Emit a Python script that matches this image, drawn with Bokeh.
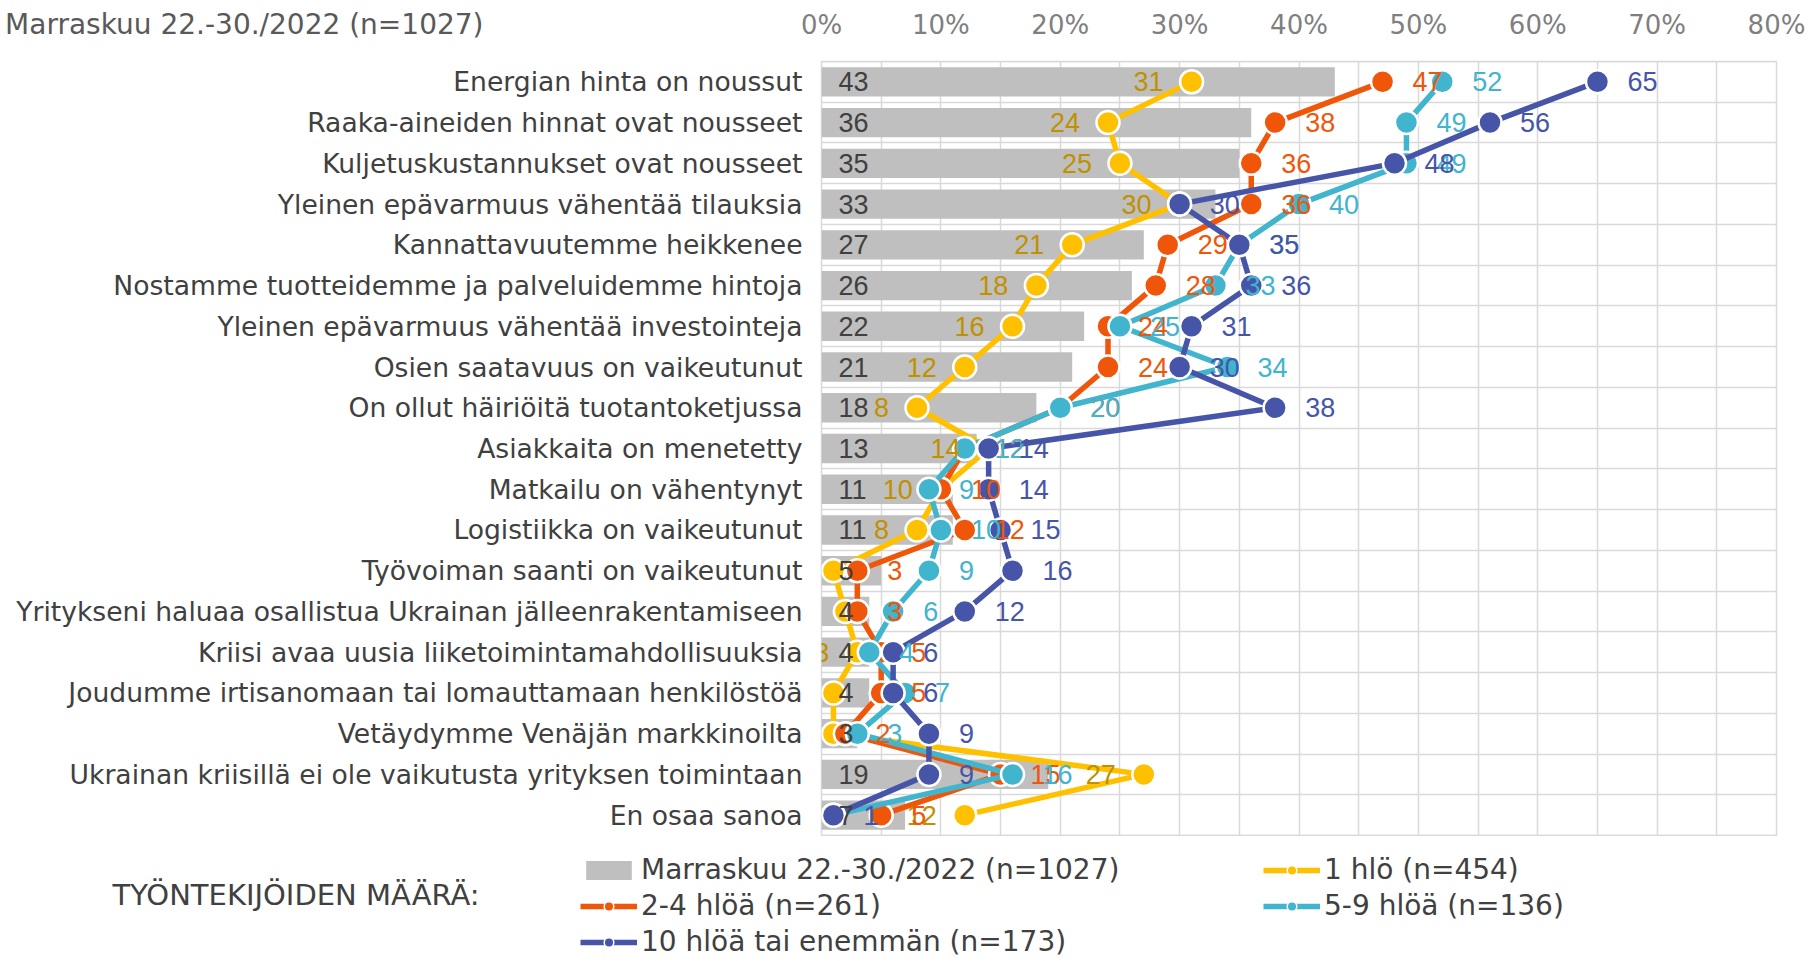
from bokeh.plotting import figure
from bokeh.layouts import column
from bokeh.models import (FactorRange, FixedTicker, Legend, LegendItem, Label, Range1d, Grid)
from bokeh.core.properties import value
from bokeh.embed import file_html
from bokeh.resources import INLINE

categories = [
    "Energian hinta on noussut",
    "Raaka-aineiden hinnat ovat nousseet",
    "Kuljetuskustannukset ovat nousseet",
    "Yleinen epävarmuus vähentää tilauksia",
    "Kannattavuutemme heikkenee",
    "Nostamme tuotteidemme ja palveluidemme hintoja",
    "Yleinen epävarmuus vähentää investointeja",
    "Osien saatavuus on vaikeutunut",
    "On ollut häiriöitä tuotantoketjussa",
    "Asiakkaita on menetetty",
    "Matkailu on vähentynyt",
    "Logistiikka on vaikeutunut",
    "Työvoiman saanti on vaikeutunut",
    "Yritykseni haluaa osallistua Ukrainan jälleenrakentamiseen",
    "Kriisi avaa uusia liiketoimintamahdollisuuksia",
    "Joudumme irtisanomaan tai lomauttamaan henkilöstöä",
    "Vetäydymme Venäjän markkinoilta",
    "Ukrainan kriisillä ei ole vaikutusta yrityksen toimintaan",
    "En osaa sanoa",
]
total_all = [43, 36, 35, 33, 27, 26, 22, 21, 18, 13, 11, 11, 5, 4, 4, 4, 3, 19, 7]
hlo_1 = [31, 24, 25, 30, 21, 18, 16, 12, 8, 14, 10, 8, 1, 2, 3, 1, 1, 27, 12]
hlo_2_4 = [47, 38, 36, 36, 29, 28, 24, 24, 20, 12, 10, 12, 3, 3, 5, 5, 2, 15, 5]
hlo_5_9 = [52, 49, 49, 40, 35, 33, 25, 34, 20, 12, 9, 10, 9, 6, 4, 7, 3, 16, 1]
hlo_10 = [65, 56, 48, 30, 35, 36, 31, 30, 38, 14, 14, 15, 16, 12, 6, 6, 9, 9, 1]

x_ticks = [0, 10, 20, 30, 40, 50, 60, 70, 80]
x_tick_labels = ["0%", "10%", "20%", "30%", "40%", "50%", "60%", "70%", "80%"]
title_text = "Marraskuu 22.-30./2022 (n=1027)"
bar_name = "Marraskuu 22.-30./2022 (n=1027)"
legend_title = "TYÖNTEKIJÖIDEN MÄÄRÄ:"
series_names = ["1 hlö (n=454)", "2-4 hlöä (n=261)", "5-9 hlöä (n=136)", "10 hlöä tai enemmän (n=173)"]

VERDANA = "DejaVu Sans"
ARIAL = "Liberation Sans"
GRID = "#D9D9D9"

W = 1810
ML, MR = 821, 34
FW = W - ML - MR          # frame width (px)
FH = 774                  # frame height (px)
TH = 60                   # top strip height
MH = FH + 2               # main figure height
LH = 125                  # legend strip height
XMIN, XMAX = 0, 80
k = FW / (XMAX - XMIN)    # px per percent


def base_fig(**kw):
    f = figure(output_backend="svg", toolbar_location=None, **kw)
    f.background_fill_color = "white"
    f.border_fill_color = "white"
    if "frame_align" in f.properties():
        f.frame_align = False
    return f


# ---------------- top strip: title + x tick labels ----------------
T = base_fig(width=W, height=TH, x_range=Range1d(XMIN - ML / k, XMAX + MR / k), y_range=Range1d(0, TH),
             min_border=0, x_axis_location=None, y_axis_location=None)
T.outline_line_color = None
T.xgrid.visible = False
T.ygrid.visible = False
T.text(x=x_ticks, y=[TH - 24] * len(x_ticks), text=x_tick_labels, text_align="center",
       text_baseline="middle", text_font=value(VERDANA), text_font_size="26px", text_color="#7F7F7F")
T.add_layout(Label(x=XMIN - ML / k + 483 / k, y=TH - 24, text=title_text, text_align="right",
                   text_baseline="middle", text_font=VERDANA, text_font_size="28px", text_color="#595959"))

# ---------------- main chart ----------------
p = base_fig(width=W, height=MH, x_range=Range1d(XMIN, XMAX),
             y_range=FactorRange(factors=categories[::-1], range_padding=0),
             x_axis_location=None, min_border_left=ML, min_border_right=MR,
             min_border_top=1, min_border_bottom=1)
p.outline_line_color = GRID
p.outline_line_width = 1.5

p.yaxis.axis_line_color = None
p.yaxis.major_tick_line_color = None
p.yaxis.minor_tick_line_color = None
p.yaxis.major_tick_out = 0
p.yaxis.major_tick_in = 0
p.yaxis.major_label_text_font = VERDANA
p.yaxis.major_label_text_font_size = "26.6px"
p.yaxis.major_label_text_color = "#404040"
p.yaxis.major_label_standoff = 19
p.ygrid.visible = False
p.xgrid.visible = False

p.add_layout(Grid(dimension=0, ticker=FixedTicker(ticks=list(range(0, 85, 5))),
                  grid_line_color=GRID, grid_line_width=1.5), "center")
p.hspan(y=list(range(len(categories) + 1)), line_color=GRID, line_width=1.5)

bars = p.hbar(y=categories, left=[0] * len(categories), right=total_all, height=0.72,
              fill_color="#BFBFBF", line_color=None)

series = [
    (hlo_1, "#FFC000", "#BF9000", -28, "right"),
    (hlo_2_4, "#F0560A", "#F0560A", 30, "left"),
    (hlo_5_9, "#41B4CE", "#41B4CE", 30, "left"),
    (hlo_10, "#4655A8", "#4655A8", 30, "left"),
]
for vals, col, lcol, off, align in series:
    p.line(x=vals, y=categories, line_color=col, line_width=5.5)
    p.scatter(x=vals, y=categories, size=23, fill_color=col, line_color="white", line_width=2.5)

p.text(x=[0] * len(categories), y=categories, text=[str(v) for v in total_all],
       x_offset=17, text_align="left", text_baseline="middle",
       text_font=value(ARIAL), text_font_size="27px", text_color="#404040")
for vals, col, lcol, off, align in series:
    p.text(x=vals, y=categories, text=[str(v) for v in vals], x_offset=off,
           text_align=align, text_baseline="middle",
           text_font=value(ARIAL), text_font_size="27px", text_color=lcol)

# ---------------- legend strip ----------------
L = base_fig(width=W, height=LH, x_range=Range1d(0, W), y_range=Range1d(0, LH),
             min_border=0, x_axis_location=None, y_axis_location=None)
L.outline_line_color = None
L.xgrid.visible = False
L.ygrid.visible = False
nan = float("nan")
lb = L.hbar(y=[nan], left=[nan], right=[nan], height=1, fill_color="#BFBFBF", line_color=None)
leg_r = []
for vals, col, lcol, off, align in series:
    ln = L.line(x=[nan], y=[nan], line_color=col, line_width=5.5)
    sc = L.scatter(x=[nan], y=[nan], size=11, fill_color=col, line_color="white", line_width=1.5)
    leg_r.append([ln, sc])

L.add_layout(Label(x=112, y=LH - 58, text=legend_title, text_align="left", text_baseline="middle",
                   text_font=VERDANA, text_font_size="29px", text_color="#404040"))

leg_common = dict(orientation="vertical", padding=0, margin=0, spacing=3, glyph_width=57,
                  glyph_height=24, label_height=28, label_standoff=4, border_line_color=None,
                  background_fill_alpha=0, label_text_font=VERDANA, label_text_font_size="28px",
                  label_text_color="#404040")
leg1 = Legend(items=[LegendItem(label=bar_name, renderers=[lb]),
                     LegendItem(label=series_names[1], renderers=leg_r[1]),
                     LegendItem(label=series_names[3], renderers=leg_r[3])],
              location=(580, 3), **leg_common)
leg2 = Legend(items=[LegendItem(label=series_names[0], renderers=leg_r[0]),
                     LegendItem(label=series_names[2], renderers=leg_r[2])],
              location=(1263, 39), **leg_common)
L.add_layout(leg1, "center")
L.add_layout(leg2, "center")

layout = column(T, p, L, spacing=0)
open("out.html", "w").write(file_html(layout, INLINE))
